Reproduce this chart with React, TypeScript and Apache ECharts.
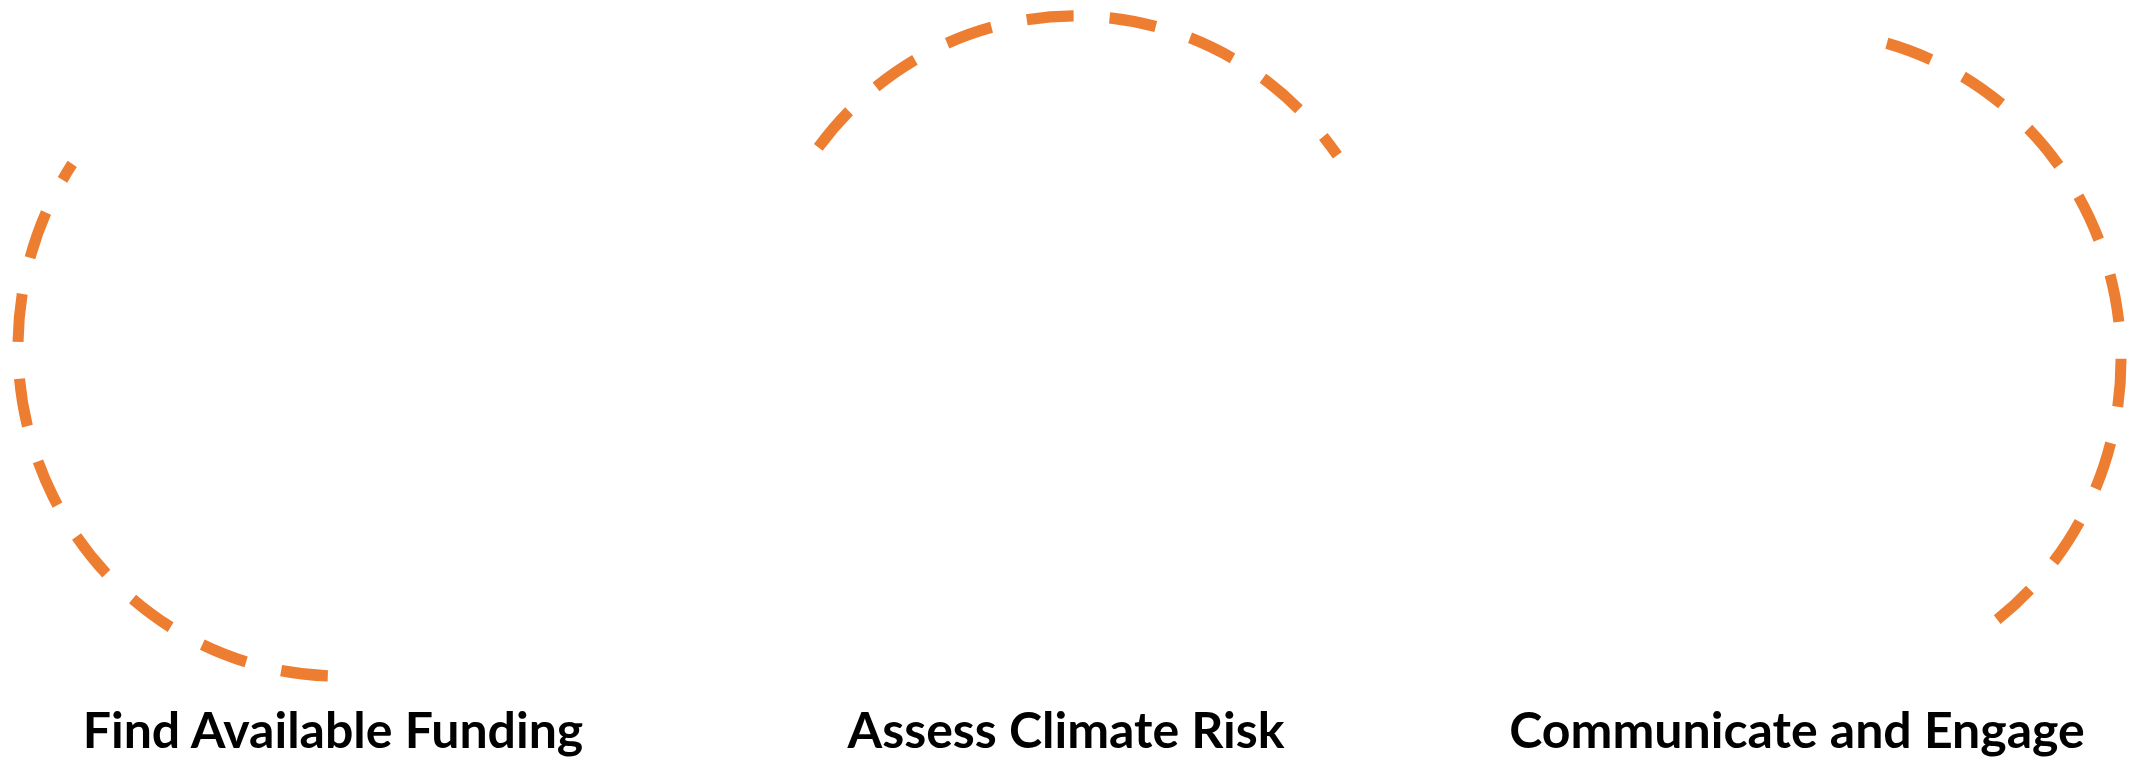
import React, { useEffect, useRef } from "react";
import * as echarts from "echarts";

// Step labels (the only textual data in the figure)
const stepLabels: string[] = [
  "Find Available Funding",
  "Assess Climate Risk",
  "Communicate and Engage",
];

// Layout of each decorative dashed arc (degrees, screen orientation)
const arcCentersX: number[] = [339, 1075, 1800];
const arcCentersY: number[] = [347, 345, 360];
const arcStartDeg: number[] = [92, 216.9, -74.3];
const arcEndDeg: number[] = [213.8, 324.8, 52.1];
const labelCentersX: number[] = [333, 1066, 1797];

const RX = 321;
const RY = 329;
const ORANGE = "#ED7D31";
const LABEL_Y = 729;

export default function App() {
  const ref = useRef<HTMLDivElement>(null);

  useEffect(() => {
    document.body.style.margin = "0";
    if (!ref.current) return;
    const chart = echarts.init(ref.current, null, { renderer: "svg" });
    const rad = (d: number) => (d * Math.PI) / 180;

    const graphics: any[] = [];
    stepLabels.forEach((label, i) => {
      graphics.push({
        type: "group",
        x: arcCentersX[i],
        y: arcCentersY[i],
        scaleY: RY / RX,
        children: [
          {
            type: "arc",
            shape: {
              cx: 0,
              cy: 0,
              r: RX,
              startAngle: rad(arcStartDeg[i]),
              endAngle: rad(arcEndDeg[i]),
              clockwise: true,
            },
            style: {
              stroke: ORANGE,
              fill: "none",
              lineWidth: 11,
              lineDash: [47, 36],
              lineCap: "butt",
            },
          },
        ],
      });
      graphics.push({
        type: "text",
        x: labelCentersX[i],
        y: LABEL_Y,
        style: {
          text: label,
          fill: "#000000",
          fontFamily: "Lato",
          fontWeight: "bold",
          fontSize: 50,
          lineHeight: 50,
          align: "center",
          verticalAlign: "middle",
        },
      });
    });

    chart.setOption({
      animation: false,
      backgroundColor: "#ffffff",
      graphic: graphics,
    });

    return () => {
      chart.dispose();
    };
  }, []);

  return (
    <div
      ref={ref}
      style={{ position: "absolute", left: 0, top: 0, width: 2136, height: 761 }}
    />
  );
}
